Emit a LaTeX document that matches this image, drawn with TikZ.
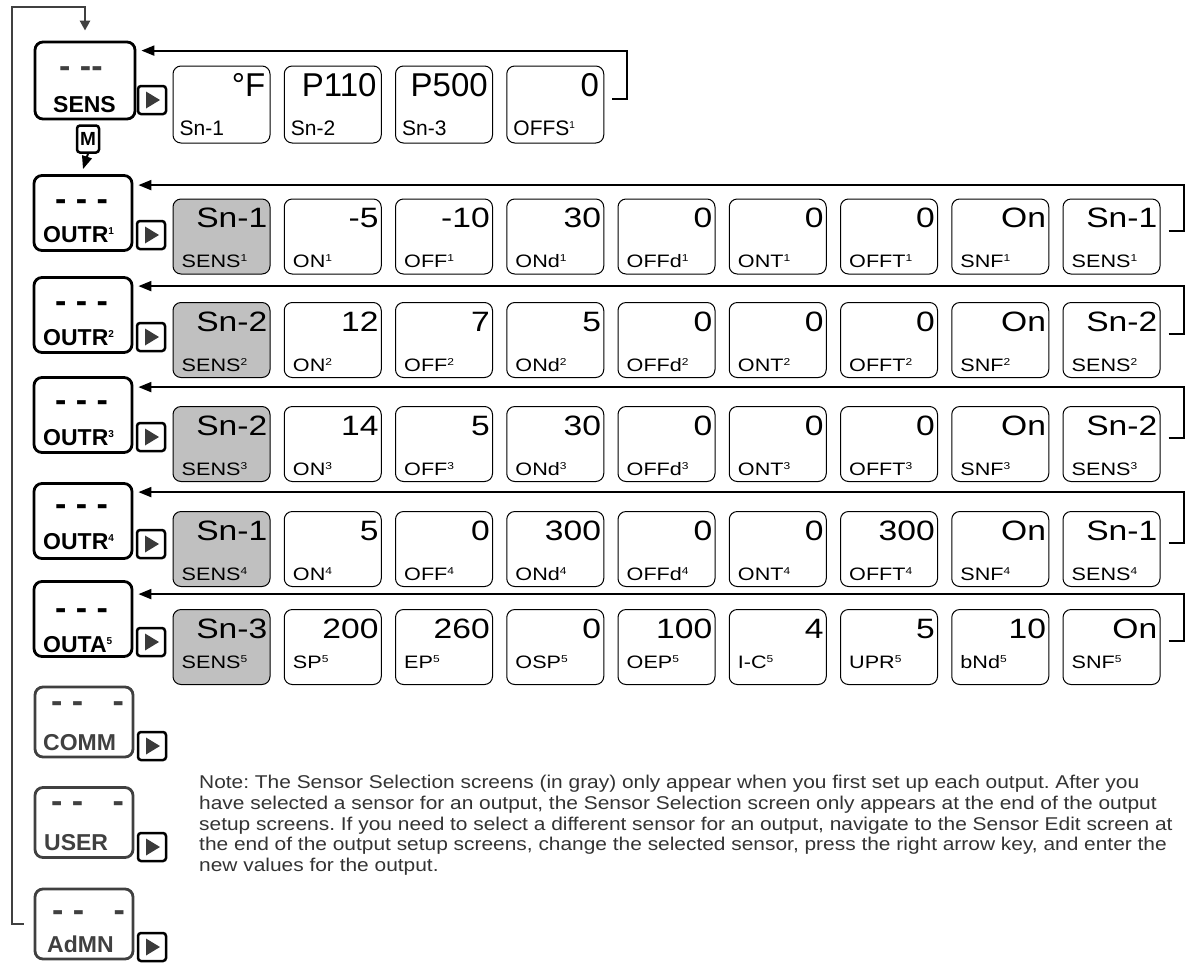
\documentclass[tikz,border=0pt]{standalone}
\usepackage{fontspec}
\setmainfont{Liberation Sans}
\newfontfamily\widefont{Liberation Sans}[FakeStretch=1.2]
\newfontfamily\notefont{Liberation Sans}[FakeStretch=1.13]
\usepackage{xcolor}
\usetikzlibrary{arrows.meta}
\definecolor{selgray}{RGB}{192,192,192}
\definecolor{keygray}{RGB}{58,58,58}
\definecolor{linegray}{RGB}{64,64,64}
\definecolor{notegray}{RGB}{51,51,51}
\newcommand{\upn}[1]{\raisebox{0.32em}{\fontsize{10}{10}\selectfont #1}}

\begin{document}
\begin{tikzpicture}[x=1pt, y=-1pt,
    menu/.style={draw, line width=2.8pt, rounded corners=8pt, minimum width=98pt, minimum height=75pt, inner sep=0pt},
    menug/.style={menu, draw=linegray, minimum height=70pt},
    mtxt/.style={anchor=base west, inner sep=0pt, font=\fontsize{23}{23}\selectfont\bfseries},
    dsh/.style={anchor=base west, inner sep=0pt, font=\fontsize{34}{34}\selectfont\bfseries},
    rkey/.style={draw, line width=2.5pt, rounded corners=3pt, minimum width=28pt, minimum height=28pt, inner sep=0pt,
      path picture={\fill[keygray, sharp corners] ([xshift=-6pt,yshift=8.5pt]path picture bounding box.center)
        -- ++(14pt,-8.5pt) -- ++(-14pt,-8.5pt) -- cycle;}},
    scr/.style={draw, line width=1pt, rounded corners=8pt, minimum width=97pt, minimum height=75pt, inner sep=0pt},
    sel/.style={scr, fill=selgray},
    val/.style={anchor=base east, inner sep=0pt, xshift=-3pt, yshift=-29pt, font=\widefont\fontsize{28}{28}\selectfont},
    lbl/.style={anchor=base west, inner sep=0pt, xshift=9pt, yshift=7pt, font=\widefont\fontsize{18}{18}\selectfont},
    sval/.style={val, xshift=-2pt, yshift=-2pt, font=\fontsize{33}{33}\selectfont},
    slbl/.style={lbl, xshift=-2pt, yshift=1pt, font=\fontsize{21}{21}\selectfont},
    lbl5/.style={lbl, yshift=10pt},
    fb/.style={-{Triangle[length=13pt,width=10pt]}, line width=2pt},
    loopl/.style={-{Triangle[length=10pt,width=10pt]}, line width=2.6pt, draw=linegray}
  ]
    \useasboundingbox (0,0) rectangle (1187,962);

    % Menu screens (left column)
    \node[menu, minimum width=100pt, minimum height=77pt] (sens) at (85,80.5) {};
    \node[menu] (outr1) at (83,213) {};
    \node[menu] (outr2) at (83,315) {};
    \node[menu] (outr3) at (83,415) {};
    \node[menu] (outr4) at (83,521) {};
    \node[menu] (outa)  at (83,619) {};
    \node[menug] (comm) at (84,722) {};
    \node[menug] (user) at (84,822.5) {};
    \node[menug] (admn) at (84,924) {};

    % Menu texts
    \node[dsh, text=linegray] (dsens) at (59,77.5) {- -{}-};
    \node[mtxt] (tsens) at (53,112) {SENS};
    \node[dsh] (dr1) at (55,210.5) {- - -};
    \node[mtxt] (tr1) at (43,242) {OUTR\upn{1}};
    \node[dsh] (dr2) at (55,312.5) {- - -};
    \node[mtxt] (tr2) at (43,345) {OUTR\upn{2}};
    \node[dsh] (dr3) at (55,411.5) {- - -};
    \node[mtxt] (tr3) at (43,445) {OUTR\upn{3}};
    \node[dsh] (dr4) at (55,515.5) {- - -};
    \node[mtxt] (tr4) at (43,549) {OUTR\upn{4}};
    \node[dsh] (da) at (55,619.5) {- - -};
    \node[mtxt] (ta) at (43,652) {OUTA\upn{5}};
    \node[dsh, text=linegray] (dcomm) at (51,712.5) {- -\hspace{20pt} -};
    \node[mtxt, text=linegray] (tcomm) at (43,750) {COMM};
    \node[dsh, text=linegray] (duser) at (51,812.5) {- -\hspace{20pt} -};
    \node[mtxt, text=linegray] (tuser) at (44,850) {USER};
    \node[dsh, text=linegray] (dadmn) at (52,921.5) {- -\hspace{20pt} -};
    \node[mtxt, text=linegray] (tadmn) at (47,952) {AdMN};

    % Right keys
    \node[rkey] (ksens) at (152,100) {};
    \node[rkey] (kr1) at (151,235) {};
    \node[rkey] (kr2) at (151,337) {};
    \node[rkey] (kr3) at (151,437) {};
    \node[rkey] (kr4) at (151,544) {};
    \node[rkey] (ka) at (151,642) {};
    \node[rkey] (kcomm) at (152,746) {};
    \node[rkey] (kuser) at (152,847) {};
    \node[rkey] (kadmn) at (152,947) {};

    % M key between SENS and OUTR1
    \node[draw, line width=2.5pt, rounded corners=3pt, minimum width=22pt, minimum height=27pt, inner sep=0pt,
      font=\fontsize{19}{19}\selectfont\bfseries] (mkey) at (88,139) {M};
    \draw[fb] (mkey.south) -- ([yshift=5pt]outr1.north);

    % Loop back from AdMN to SENS
    \coordinate (ltop) at (12,7);
    \draw[loopl] ([xshift=-10pt]admn.west) -| (ltop) -| ([yshift=10pt]sens.north);

    % SENS screens
    \node[scr, minimum height=77pt, label={[sval]north east:°F},   label={[slbl]south west:Sn-1}] (s1) at (221.5,104.5) {};
    \node[scr, minimum height=77pt, label={[sval]north east:P110}, label={[slbl]south west:Sn-2}] (s2) at (332.75,104.5) {};
    \node[scr, minimum height=77pt, label={[sval]north east:P500}, label={[slbl]south west:Sn-3}] (s3) at (444,104.5) {};
    \node[scr, minimum height=77pt, label={[sval]north east:0},    label={[slbl]south west:OFFS\upn{1}}] (s4) at (555.25,104.5) {};
    \draw[fb] ([xshift=8pt,yshift=6pt]s4.east) -- ++(15,0) |- ([xshift=5pt,yshift=-10pt]sens.north east);

    % OUTR1 screens
    \node[sel, label={[val]north east:Sn-1}, label={[lbl]south west:SENS\upn{1}}] (r1a) at (221.5,236.5) {};
    \node[scr, label={[val]north east:-5},   label={[lbl]south west:ON\upn{1}}]   (r1b) at (332.75,236.5) {};
    \node[scr, label={[val]north east:-10},  label={[lbl]south west:OFF\upn{1}}]  (r1c) at (444,236.5) {};
    \node[scr, label={[val]north east:30},   label={[lbl]south west:ONd\upn{1}}]  (r1d) at (555.25,236.5) {};
    \node[scr, label={[val]north east:0},    label={[lbl]south west:OFFd\upn{1}}] (r1e) at (666.5,236.5) {};
    \node[scr, label={[val]north east:0},    label={[lbl]south west:ONT\upn{1}}]  (r1f) at (777.75,236.5) {};
    \node[scr, label={[val]north east:0},    label={[lbl]south west:OFFT\upn{1}}] (r1g) at (889,236.5) {};
    \node[scr, label={[val]north east:On},   label={[lbl]south west:SNF\upn{1}}]  (r1h) at (1000.25,236.5) {};
    \node[scr, label={[val]north east:Sn-1}, label={[lbl]south west:SENS\upn{1}}] (r1i) at (1111.5,236.5) {};
    \draw[fb] ([xshift=8pt,yshift=6pt]r1i.east) -- ++(15,0) |- ([xshift=5pt,yshift=-11pt]outr1.north east);

    % OUTR2 screens
    \node[sel, label={[val]north east:Sn-2}, label={[lbl]south west:SENS\upn{2}}] (r2a) at (221.5,340) {};
    \node[scr, label={[val]north east:12},   label={[lbl]south west:ON\upn{2}}]   (r2b) at (332.75,340) {};
    \node[scr, label={[val]north east:7},    label={[lbl]south west:OFF\upn{2}}]  (r2c) at (444,340) {};
    \node[scr, label={[val]north east:5},    label={[lbl]south west:ONd\upn{2}}]  (r2d) at (555.25,340) {};
    \node[scr, label={[val]north east:0},    label={[lbl]south west:OFFd\upn{2}}] (r2e) at (666.5,340) {};
    \node[scr, label={[val]north east:0},    label={[lbl]south west:ONT\upn{2}}]  (r2f) at (777.75,340) {};
    \node[scr, label={[val]north east:0},    label={[lbl]south west:OFFT\upn{2}}] (r2g) at (889,340) {};
    \node[scr, label={[val]north east:On},   label={[lbl]south west:SNF\upn{2}}]  (r2h) at (1000.25,340) {};
    \node[scr, label={[val]north east:Sn-2}, label={[lbl]south west:SENS\upn{2}}] (r2i) at (1111.5,340) {};
    \draw[fb] ([xshift=8pt,yshift=6pt]r2i.east) -- ++(15,0) |- ([xshift=5pt,yshift=-10pt]outr2.north east);

    % OUTR3 screens
    \node[sel, label={[val]north east:Sn-2}, label={[lbl]south west:SENS\upn{3}}] (r3a) at (221.5,444) {};
    \node[scr, label={[val]north east:14},   label={[lbl]south west:ON\upn{3}}]   (r3b) at (332.75,444) {};
    \node[scr, label={[val]north east:5},    label={[lbl]south west:OFF\upn{3}}]  (r3c) at (444,444) {};
    \node[scr, label={[val]north east:30},   label={[lbl]south west:ONd\upn{3}}]  (r3d) at (555.25,444) {};
    \node[scr, label={[val]north east:0},    label={[lbl]south west:OFFd\upn{3}}] (r3e) at (666.5,444) {};
    \node[scr, label={[val]north east:0},    label={[lbl]south west:ONT\upn{3}}]  (r3f) at (777.75,444) {};
    \node[scr, label={[val]north east:0},    label={[lbl]south west:OFFT\upn{3}}] (r3g) at (889,444) {};
    \node[scr, label={[val]north east:On},   label={[lbl]south west:SNF\upn{3}}]  (r3h) at (1000.25,444) {};
    \node[scr, label={[val]north east:Sn-2}, label={[lbl]south west:SENS\upn{3}}] (r3i) at (1111.5,444) {};
    \draw[fb] ([xshift=8pt,yshift=6pt]r3i.east) -- ++(15,0) |- ([xshift=5pt,yshift=-11pt]outr3.north east);

    % OUTR4 screens
    \node[sel, label={[val]north east:Sn-1}, label={[lbl]south west:SENS\upn{4}}] (r4a) at (221.5,549) {};
    \node[scr, label={[val]north east:5},    label={[lbl]south west:ON\upn{4}}]   (r4b) at (332.75,549) {};
    \node[scr, label={[val]north east:0},    label={[lbl]south west:OFF\upn{4}}]  (r4c) at (444,549) {};
    \node[scr, label={[val]north east:300},  label={[lbl]south west:ONd\upn{4}}]  (r4d) at (555.25,549) {};
    \node[scr, label={[val]north east:0},    label={[lbl]south west:OFFd\upn{4}}] (r4e) at (666.5,549) {};
    \node[scr, label={[val]north east:0},    label={[lbl]south west:ONT\upn{4}}]  (r4f) at (777.75,549) {};
    \node[scr, label={[val]north east:300},  label={[lbl]south west:OFFT\upn{4}}] (r4g) at (889,549) {};
    \node[scr, label={[val]north east:On},   label={[lbl]south west:SNF\upn{4}}]  (r4h) at (1000.25,549) {};
    \node[scr, label={[val]north east:Sn-1}, label={[lbl]south west:SENS\upn{4}}] (r4i) at (1111.5,549) {};
    \draw[fb] ([xshift=8pt,yshift=6pt]r4i.east) -- ++(15,0) |- ([xshift=5pt,yshift=-10pt]outr4.north east);

    % OUTA5 screens
    \node[sel, label={[val]north east:Sn-3}, label={[lbl5]south west:SENS\upn{5}}] (r5a) at (221.5,647) {};
    \node[scr, label={[val]north east:200},  label={[lbl5]south west:SP\upn{5}}]   (r5b) at (332.75,647) {};
    \node[scr, label={[val]north east:260},  label={[lbl5]south west:EP\upn{5}}]   (r5c) at (444,647) {};
    \node[scr, label={[val]north east:0},    label={[lbl5]south west:OSP\upn{5}}]  (r5d) at (555.25,647) {};
    \node[scr, label={[val]north east:100},  label={[lbl5]south west:OEP\upn{5}}]  (r5e) at (666.5,647) {};
    \node[scr, label={[val]north east:4},    label={[lbl5]south west:I-C\upn{5}}]  (r5f) at (777.75,647) {};
    \node[scr, label={[val]north east:5},    label={[lbl5]south west:UPR\upn{5}}]  (r5g) at (889,647) {};
    \node[scr, label={[val]north east:10},   label={[lbl5]south west:bNd\upn{5}}]  (r5h) at (1000.25,647) {};
    \node[scr, label={[val]north east:On},   label={[lbl5]south west:SNF\upn{5}}]  (r5i) at (1111.5,647) {};
    \draw[fb] ([xshift=8pt,yshift=6pt]r5i.east) -- ++(15,0) |- ([xshift=5pt,yshift=-14pt]outa.north east);

    % Note
    \node[anchor=north west, inner sep=0pt, align=left, text=notegray,
      font=\notefont\fontsize{18.5}{20.7}\selectfont\frenchspacing] (note) at (199,775)
      {Note: The Sensor Selection screens (in gray) only appear when you first set up each output. After you\\
       have selected a sensor for an output, the Sensor Selection screen only appears at the end of the output\\
       setup screens. If you need to select a different sensor for an output, navigate to the Sensor Edit screen at\\
       the end of the output setup screens, change the selected sensor, press the right arrow key, and enter the\\
       new values for the output.};
  \end{tikzpicture}
\end{document}
